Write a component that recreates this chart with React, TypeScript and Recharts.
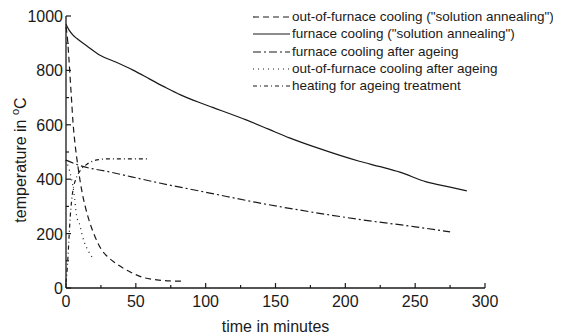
import React from 'react';
import { LineChart, Line, XAxis, YAxis, Legend } from 'recharts';

// time in minutes / temperature in °C
const quenchSATime = [0, 1, 2, 3, 4, 5, 6.4, 8.6, 11.4, 14, 17, 21, 25.5, 30, 35, 46, 55, 65, 74, 84];
const quenchSATemp = [960, 920, 850, 770, 690, 610, 533, 445, 355, 295, 241, 186, 140, 114, 93, 59, 39, 30, 26, 25];

const furnaceSATime = [0, 2, 5, 7.6, 15, 24, 36, 48, 60, 72, 82, 96, 105, 129, 145, 160, 180, 210, 225, 239, 258, 275, 287];
const furnaceSATemp = [970, 950, 930, 918, 890, 857, 830, 801, 768, 735, 710, 681, 664, 618, 584, 552, 515, 466, 446, 426, 390, 371, 357];

const furnaceAgeTime = [0, 10, 31, 67, 103, 139, 175, 213, 250, 275];
const furnaceAgeTemp = [470, 450, 427, 386, 349, 312, 280, 250, 225, 206];

const quenchAgeTime = [0, 2, 4, 5.7, 7.6, 10, 11.3, 13, 16, 19.5];
const quenchAgeTemp = [470, 440, 400, 350, 265, 230, 200, 170, 136, 107];

const heatingTime = [0, 1, 2, 3, 4, 5, 7, 10, 15, 20, 25, 30, 60];
const heatingTemp = [20, 80, 170, 260, 320, 360, 400, 430, 455, 468, 473, 475, 475];

const xTicks = [0, 25, 50, 75, 100, 125, 150, 175, 200, 225, 250, 275, 300];
const yTicks = [0, 100, 200, 300, 400, 500, 600, 700, 800, 900, 1000];

const zip = (t: number[], v: number[]) => t.map((x, i) => ({ t: x, T: v[i] }));

const series = [
  { name: 'out-of-furnace cooling ("solution annealing")', data: zip(quenchSATime, quenchSATemp), dash: '6 4' },
  { name: 'furnace cooling ("solution annealing")', data: zip(furnaceSATime, furnaceSATemp), dash: undefined },
  { name: 'furnace cooling after ageing', data: zip(furnaceAgeTime, furnaceAgeTemp), dash: '8 3 2 3' },
  { name: 'out-of-furnace cooling after ageing', data: zip(quenchAgeTime, quenchAgeTemp), dash: '1 4' },
  { name: 'heating for ageing treatment', data: zip(heatingTime, heatingTemp), dash: '4 3 1 3' },
];

const ink = '#1a1a1a';

const XTick = (props: any) => {
  const { x, y, payload } = props;
  const major = payload.value % 50 === 0;
  return (
    <g>
      <line x1={x} x2={x} y1={y} y2={y - (major ? 5 : 3)} stroke={ink} strokeWidth={1.2} />
      {major && (
        <text x={x} y={y + 19} textAnchor="middle" fontSize={16} fill={ink}>
          {payload.value}
        </text>
      )}
    </g>
  );
};

const YTick = (props: any) => {
  const { x, y, payload } = props;
  const major = payload.value % 200 === 0;
  return (
    <g>
      <line x1={x} x2={x + (major ? 5 : 3)} y1={y} y2={y} stroke={ink} strokeWidth={1.2} />
      {major && (
        <text x={x - 3} y={y + 6} textAnchor="end" fontSize={16} fill={ink}>
          {payload.value}
        </text>
      )}
    </g>
  );
};

const XLabel = (props: any) => {
  const { viewBox } = props;
  const cx = viewBox.x + viewBox.width / 2;
  return (
    <text x={cx} y={viewBox.y + 44} textAnchor="middle" fontSize={16} fill={ink}>
      time in minutes
    </text>
  );
};

const YLabel = (props: any) => {
  const { viewBox } = props;
  const cx = viewBox.x + 13;
  const cy = viewBox.y + viewBox.height / 2 + 8;
  return (
    <text x={cx} y={cy} transform={`rotate(-90 ${cx} ${cy})`} textAnchor="middle" fontSize={16} fill={ink} dy={5}>
      temperature in <tspan fontSize={11} dy={-7}>o</tspan>
      <tspan dy={7}>C</tspan>
    </text>
  );
};

const LegendBox = () => (
  <div style={{ fontSize: 13.5, color: ink, lineHeight: '17.3px' }}>
    {series.map((s) => (
      <div key={s.name} style={{ display: 'flex', alignItems: 'center', whiteSpace: 'nowrap' }}>
        <svg width={39} height={17}>
          <line x1={0} x2={37} y1={9} y2={9} stroke={ink} strokeWidth={1.2} strokeDasharray={s.dash} />
        </svg>
        <span>{s.name}</span>
      </div>
    ))}
  </div>
);

export default function App() {
  return (
    <div style={{ fontFamily: '"Liberation Sans", Arial, sans-serif' }}>
      <LineChart width={553} height={328} margin={{ top: 8, right: 76, bottom: 0, left: 0 }}>
        <XAxis
          type="number"
          dataKey="t"
          domain={[0, 300]}
          ticks={xTicks}
          interval={0}
          tick={<XTick />}
          tickLine={false}
          tickSize={0}
          tickMargin={0}
          height={48}
          stroke={ink}
          strokeWidth={1.3}
          allowDuplicatedCategory={false}
          label={<XLabel />}
        />
        <YAxis
          type="number"
          dataKey="T"
          domain={[0, 1000]}
          ticks={yTicks}
          interval={0}
          tick={<YTick />}
          tickLine={false}
          tickSize={0}
          tickMargin={0}
          width={58}
          stroke={ink}
          strokeWidth={1.3}
          label={<YLabel />}
        />
        <Legend
          layout="vertical"
          align="center"
          verticalAlign="middle"
          wrapperStyle={{ top: 0, left: 245, width: 308 }}
          content={<LegendBox />}
        />
        {series.map((s) => (
          <Line
            key={s.name}
            name={s.name}
            data={s.data}
            dataKey="T"
            type="monotone"
            stroke={ink}
            strokeWidth={1.2}
            strokeDasharray={s.dash}
            dot={false}
            activeDot={false}
            isAnimationActive={false}
          />
        ))}
      </LineChart>
    </div>
  );
}
